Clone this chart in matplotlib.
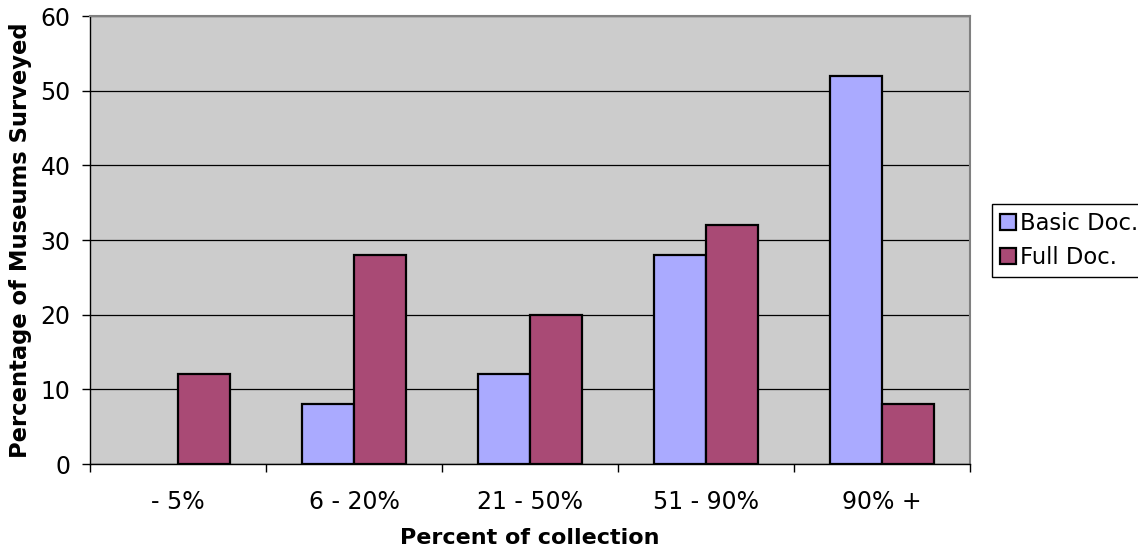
import numpy as np
from matplotlib import pyplot as plt

categories = ["- 5%", "6 - 20%", "21 - 50%", "51 - 90%", "90% +"]
basic_doc = [np.nan, 8, 12, 28, 52]
full_doc = [12, 28, 20, 32, 8]

plt.rcParams['font.family'] = ['DejaVu Sans']

fig = plt.figure(figsize=(11.38, 5.52), dpi=100)
ax = fig.add_axes([90/1138, 1-464/552, 880/1138, 448/552])
ax.set_facecolor("#CCCCCC")

x = np.arange(len(categories))
w = 0.295
ax.bar(x - w/2, basic_doc, w, color="#AAAAFF", edgecolor="black", linewidth=1.6, label="Basic Doc.", zorder=3)
ax.bar(x + w/2, full_doc, w, color="#A94A75", edgecolor="black", linewidth=1.6, label="Full Doc.", zorder=3)

ax.set_xlim(-0.5, len(categories) - 0.5)
ax.set_ylim(0, 60)
ax.set_yticks(range(0, 61, 10))
ax.yaxis.grid(True, color="black", linewidth=0.9, zorder=0)
ax.set_axisbelow(True)

ax.set_xticks(x)
ax.set_xticklabels(categories)
ax.set_xticks(np.arange(-0.5, len(categories)), minor=True)
ax.tick_params(axis="x", which="major", length=0, pad=19, labelsize=17)
ax.tick_params(axis="x", which="minor", length=6, width=1)
ax.tick_params(axis="y", length=6, width=1, labelsize=17, pad=8)

for s in ["top", "right"]:
    ax.spines[s].set_color("#808080")
    ax.spines[s].set_linewidth(1.5)
for s in ["left", "bottom"]:
    ax.spines[s].set_color("black")
    ax.spines[s].set_linewidth(1)

ax.set_xlabel("Percent of collection", fontsize=16, fontweight="bold")
ax.xaxis.set_label_coords(0.5, -0.142)
ax.set_ylabel("Percentage of Museums Surveyed", fontsize=16.3, fontweight="bold")
ax.yaxis.set_label_coords(-0.066, 0.5)

leg = fig.legend(loc="upper left", bbox_to_anchor=(992/1138, 1-204/552), fontsize=16.3,
                 fancybox=False, edgecolor="black", framealpha=1, handlelength=0.7,
                 handleheight=0.7, handletextpad=0.2, borderpad=0.35, labelspacing=0.5,
                 borderaxespad=0)
leg.get_frame().set_linewidth(1)

plt.savefig("out.png")
